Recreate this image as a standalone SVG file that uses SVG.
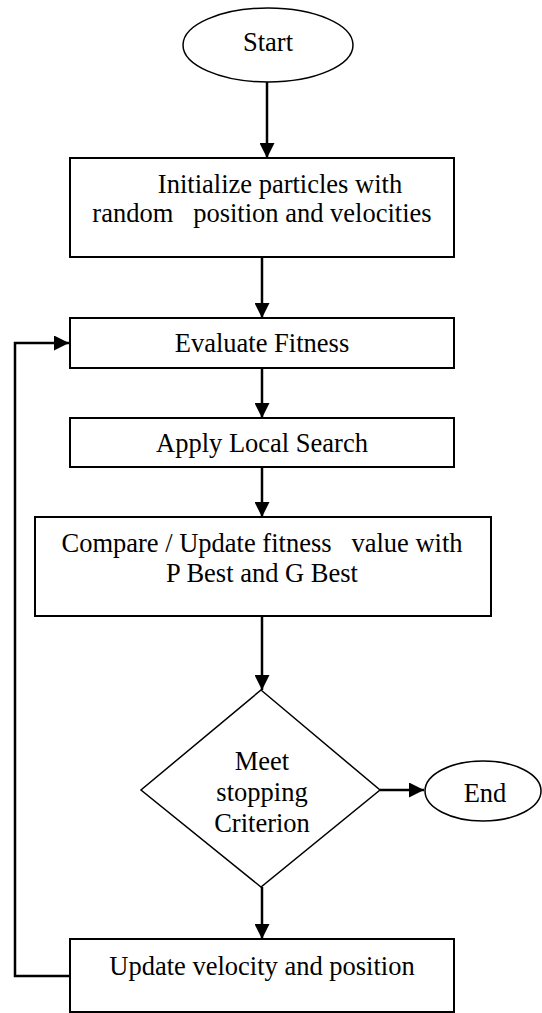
<svg xmlns="http://www.w3.org/2000/svg" width="542" height="1013" viewBox="0 0 542 1013">
  <style>
    .box { fill: #fff; stroke: #000; stroke-width: 2; }
    .term { fill: #fff; stroke: #000; stroke-width: 1.5; }
    .edge { fill: none; stroke: #000; stroke-width: 2.5; }
    .label { font-family: "Liberation Serif", "Times New Roman", serif; font-size: 26.5px; fill: #000; text-anchor: middle; white-space: pre; }
  </style>
  <defs>
    <marker id="arrow" markerUnits="userSpaceOnUse" markerWidth="15" markerHeight="15" refX="15" refY="7.5" orient="auto">
      <path d="M0,0 L15,7.5 L0,15 z" fill="#000"/>
    </marker>
  </defs>
  <rect width="542" height="1013" fill="#fff"/>

  <g id="connectors">
    <line class="edge" x1="267" y1="82" x2="267" y2="158" marker-end="url(#arrow)"/>
    <line class="edge" x1="262" y1="257" x2="262" y2="318" marker-end="url(#arrow)"/>
    <line class="edge" x1="262" y1="368" x2="262" y2="418" marker-end="url(#arrow)"/>
    <line class="edge" x1="262" y1="467" x2="262" y2="517" marker-end="url(#arrow)"/>
    <line class="edge" x1="262" y1="616" x2="262" y2="690" marker-end="url(#arrow)"/>
    <line class="edge" x1="380" y1="790" x2="424" y2="790" marker-end="url(#arrow)"/>
    <line class="edge" x1="262" y1="887" x2="262" y2="939" marker-end="url(#arrow)"/>
    <path class="edge" d="M70,976 H15 V343 H69" marker-end="url(#arrow)"/>
  </g>

  <g id="start">
    <ellipse class="term" cx="268" cy="45" rx="85" ry="37"/>
    <text class="label" x="268" y="51">Start</text>
  </g>

  <g id="init">
    <rect class="box" x="70" y="158" width="384" height="99"/>
    <text class="label" x="280" y="193">Initialize particles with</text>
    <text class="label" x="262" y="222" xml:space="preserve">random   position and velocities</text>
  </g>

  <g id="evaluate">
    <rect class="box" x="70" y="318" width="384" height="50"/>
    <text class="label" x="262" y="352">Evaluate Fitness</text>
  </g>

  <g id="local-search">
    <rect class="box" x="70" y="418" width="384" height="49"/>
    <text class="label" x="262" y="452">Apply Local Search</text>
  </g>

  <g id="compare">
    <rect class="box" x="35" y="517" width="456" height="99"/>
    <text class="label" x="262" y="552" xml:space="preserve">Compare / Update fitness   value with</text>
    <text class="label" x="262" y="582">P Best and G Best</text>
  </g>

  <g id="decision">
    <polygon class="term" points="261,690 380,790 261,887 141,790"/>
    <text class="label" x="262" y="770">Meet</text>
    <text class="label" x="262" y="801">stopping</text>
    <text class="label" x="262" y="832">Criterion</text>
  </g>

  <g id="end">
    <ellipse class="term" cx="483" cy="791" rx="58" ry="30"/>
    <text class="label" x="485" y="802">End</text>
  </g>

  <g id="update">
    <rect class="box" x="70" y="939" width="384" height="73"/>
    <text class="label" x="262" y="975">Update velocity and position</text>
  </g>
</svg>
